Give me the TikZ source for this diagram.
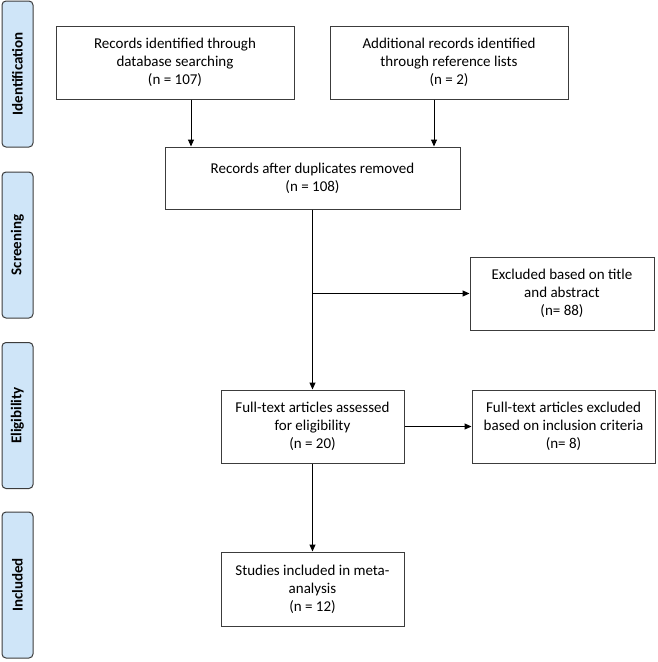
\documentclass[tikz,border=0pt]{standalone}
\usepackage{fontspec}
\setmainfont{Carlito}
\usetikzlibrary{arrows.meta}
\definecolor{phasefill}{RGB}{207,229,248}
\definecolor{linegray}{RGB}{60,60,60}

\begin{document}
\begin{tikzpicture}[x=1pt,y=-1pt,
  box/.style={draw=linegray,line width=1pt,align=center,inner sep=0pt,
    font=\fontsize{15}{18}\selectfont,minimum width=183pt,minimum height=73pt},
  phase/.style={draw=linegray,line width=1pt,fill=phasefill,rounded corners=4pt,
    rotate=90,minimum width=146pt,minimum height=31pt,inner sep=0pt,
    font=\fontsize{15}{17}\selectfont\bfseries},
  >={Triangle[length=7pt,width=6pt]}]
\useasboundingbox (0,0) rectangle (657,662);

% phase labels
\node [phase] (ident) at (17.5,74) {Identification};
\node [phase] (screen) at (17.5,245) {Screening};
\node [phase] (elig) at (17.5,415.5) {Eligibility};
\node [phase] (incl) at (17.5,585) {Included};

% boxes
\node [box, minimum width=238pt] (db) at (175,62.5) {Records identified through\\database searching\\(n = 107)};
\node [box, minimum width=238pt] (ref) at (449,62.5) {Additional records identified\\through reference lists\\(n = 2)};
\node [box, minimum width=295pt, minimum height=62pt] (dup) at (312.5,178) {Records after duplicates removed\\(n = 108)};
\node [box, minimum width=184pt] (excta) at (562,293.5) {Excluded based on title\\and abstract\\(n= 88)};
\node [box] (full) at (312.5,426.5) {Full-text articles assessed\\for eligibility\\(n = 20)};
\node [box] (excinc) at (563.5,426.5) {Full-text articles excluded\\based on inclusion criteria\\(n= 8)};
\node [box, minimum height=74pt] (meta) at (312.5,589) {Studies included in meta-\\analysis\\(n = 12)};

\begin{scope}[line width=1pt, draw=black]
\draw [->] ([xshift=16pt]db.south) -- ([xshift=16pt]db.south |- dup.north);
\draw [->] ([xshift=-15pt]ref.south) -- ([xshift=-15pt]ref.south |- dup.north);
\coordinate (split) at (dup.south |- excta.west);
\draw [->] (dup.south) -- (full.north);
\draw [->] (split) -- (excta.west);
\draw [->] (full.east) -- (excinc.west);
\draw [->] (full.south) -- (meta.north);
\end{scope}
\end{tikzpicture}
\end{document}
